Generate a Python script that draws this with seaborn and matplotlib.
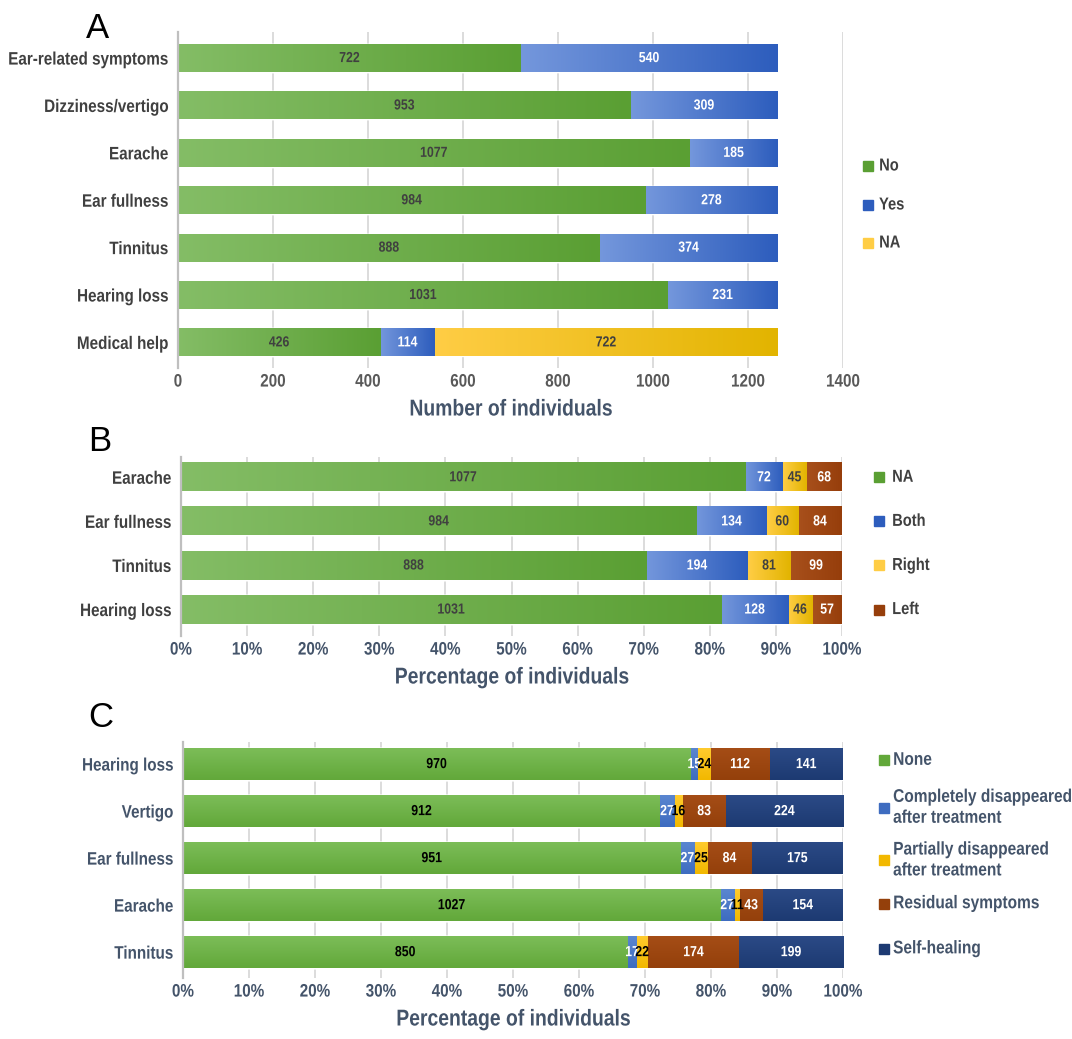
import numpy as np
import pandas as pd
import matplotlib
matplotlib.use("Agg")
import matplotlib.pyplot as plt
import matplotlib.transforms as mtransforms
from matplotlib.transforms import Affine2D
from matplotlib.colors import LinearSegmentedColormap
from matplotlib.patheffects import AbstractPathEffect
from matplotlib import font_manager as fm
import seaborn as sns

# ---------------- data ----------------
a_cats = ["Ear-related symptoms", "Dizziness/vertigo", "Earache", "Ear fullness",
          "Tinnitus", "Hearing loss", "Medical help"]
a_no = [722, 953, 1077, 984, 888, 1031, 426]
a_yes = [540, 309, 185, 278, 374, 231, 114]
a_na = [0, 0, 0, 0, 0, 0, 722]
a_names = ["No", "Yes", "NA"]
a_ticks = [0, 200, 400, 600, 800, 1000, 1200, 1400]

b_cats = ["Earache", "Ear fullness", "Tinnitus", "Hearing loss"]
b_na = [1077, 984, 888, 1031]
b_both = [72, 134, 194, 128]
b_right = [45, 60, 81, 46]
b_left = [68, 84, 99, 57]
b_names = ["NA", "Both", "Right", "Left"]

c_cats = ["Hearing loss", "Vertigo", "Ear fullness", "Earache", "Tinnitus"]
c_none = [970, 912, 951, 1027, 850]
c_complete = [15, 27, 27, 27, 17]
c_partial = [24, 16, 25, 11, 22]
c_residual = [112, 83, 84, 43, 174]
c_self = [141, 224, 175, 154, 199]
c_names = ["None", "Completely disappeared\nafter treatment",
           "Partially disappeared\nafter treatment", "Residual symptoms", "Self-healing"]
pct_ticks = list(range(0, 101, 10))

# ---------------- style ----------------
sns.set_theme(style="white")

installed = {f.name for f in fm.fontManager.ttflist}
if "Liberation Sans Narrow" in installed:
    FAM = ["Liberation Sans Narrow", "DejaVu Sans"]
elif "Liberation Sans" in installed:
    FAM = ["Liberation Sans", "DejaVu Sans"]
else:
    FAM = ["DejaVu Sans"]
plt.rcParams["font.family"] = FAM


class Narrow(AbstractPathEffect):
    """Horizontally condense text glyphs (the reference uses a narrow face)."""

    def __init__(self, sx, anchor="center"):
        super().__init__()
        self.sx = sx
        self.anchor = anchor

    def draw_path(self, renderer, gc, tpath, affine, rgbFace=None):
        ext = tpath.get_extents(affine)
        if self.anchor == "left":
            x0 = ext.x0
        elif self.anchor == "right":
            x0 = ext.x1
        else:
            x0 = 0.5 * (ext.x0 + ext.x1)
        new = affine + Affine2D().translate(-x0, 0).scale(self.sx, 1).translate(x0, 0)
        renderer.draw_path(gc, tpath, new, rgbFace)


GREEN = ("#84bd66", "#5a9f33")
BLUE = ("#7497dc", "#2d5dbd")
YELLOW = ("#ffcd45", "#e2b400")
BROWN = ("#a8501c", "#963e0b")

C_GREEN = ("#7cbd58", "#62a83a")
C_BLUE = ("#5a86d0", "#3e6cc0")
C_YELLOW = ("#ffcb2e", "#f2b800")
C_BROWN = ("#a54d16", "#94400b")
C_NAVY = ("#2b4a86", "#1d3a72")

GRID = "#d9d9d9"
DARK = "#404040"
SLATE = "#44546a"

fig = plt.figure(figsize=(10.72, 10.39), dpi=100)
W, H = 1072.0, 1039.0

TICK = 13
VAL = 10.5
XLAB = 16.5
LEG = 12.5
LEG_C = 13.2

# condensing factor so that the widest y label has the reference width (~160 px)
renderer = fig.canvas.get_renderer()
_t = fig.text(0, 0, "Ear-related symptoms", fontsize=TICK, fontweight="bold")
_w = _t.get_window_extent(renderer).width
_t.remove()
SX = float(np.clip(160.0 / _w, 0.68, 1.0))


def narrow(t, anchor):
    t.set_path_effects([Narrow(SX, anchor)])
    return t


def rect(x0, x1, y0, y1):
    return [x0 / W, 1 - y1 / H, (x1 - x0) / W, (y1 - y0) / H]


def stacked(ax, cats, series, grads, lab_colors, width, pct, vertical=False):
    vals = np.array(series, dtype=float)
    cum = np.cumsum(vals, axis=0)
    tot = cum[-1]
    cumx = cum / tot * 100 if pct else cum
    n = len(series)
    for i in reversed(range(n)):
        df = pd.DataFrame({"cat": cats, "x": cumx[i]})
        before = len(ax.patches)
        sns.barplot(data=df, x="x", y="cat", order=cats, orient="h",
                    color=grads[i][1], saturation=1, width=width, ax=ax,
                    errorbar=None)
        for p in ax.patches[before:]:
            j = int(round(p.get_y() + p.get_height() / 2))
            if vals[i][j] <= 0:
                continue
            left = 0.0 if i == 0 else cumx[i - 1][j]
            right = cumx[i][j]
            y0 = p.get_y()
            y1 = y0 + p.get_height()
            cmap = LinearSegmentedColormap.from_list("g", list(grads[i]))
            if vertical:
                g = np.linspace(0, 1, 64).reshape(-1, 1)
            else:
                g = np.linspace(0, 1, 256).reshape(1, -1)
            ax.imshow(g, extent=[left, right, y1, y0], aspect="auto", cmap=cmap,
                      interpolation="bilinear", origin="upper",
                      zorder=p.get_zorder() + 0.5 + (n - i) * 0.01)
    for i in range(n):
        for j in range(len(cats)):
            v = vals[i][j]
            if v <= 0:
                continue
            left = 0.0 if i == 0 else cumx[i - 1][j]
            xc = left + (cumx[i][j] - left) / 2
            narrow(ax.text(xc, j, f"{int(v)}", ha="center", va="center",
                           color=lab_colors[i], fontsize=VAL, fontweight="bold",
                           zorder=10), "center")


def finish(ax, xlim, ylim, ticks, ticklabels, xlabel, ycolor, xcolor):
    ax.set_xlim(*xlim)
    ax.set_ylim(*ylim)
    ax.set_xticks(ticks)
    ax.set_xticklabels(ticklabels)
    ax.set_axisbelow(True)
    ax.grid(axis="x", color=GRID, lw=1.3)
    ax.grid(axis="y", visible=False)
    for s in ["top", "right", "bottom"]:
        ax.spines[s].set_visible(False)
    ax.spines["left"].set_color("#bfbfbf")
    ax.spines["left"].set_linewidth(1.6)
    ax.tick_params(axis="both", length=0)
    ax.tick_params(axis="x", pad=4, labelsize=TICK, colors=xcolor)
    ax.tick_params(axis="y", pad=7, labelsize=TICK, colors=ycolor)
    for t in ax.get_xticklabels():
        t.set_fontweight("bold")
        narrow(t, "center")
    for t in ax.get_yticklabels():
        t.set_fontweight("bold")
        narrow(t, "right")
    ax.set_ylabel("")
    ax.set_xlabel(xlabel, fontsize=XLAB, fontweight="bold", color=SLATE, labelpad=5)
    narrow(ax.xaxis.label, "center")


# ---------------- Panel A ----------------
axA = fig.add_axes(rect(178, 843, 32, 368))
stacked(axA, a_cats, [a_no, a_yes, a_na], [GREEN, BLUE, YELLOW],
        [DARK, "white", DARK], 0.59, pct=False)
finish(axA, (0, 1400), (6.54, -0.55), a_ticks, [str(t) for t in a_ticks],
       "Number of individuals", DARK, "#595959")

# ---------------- Panel B ----------------
axB = fig.add_axes(rect(181, 842, 457, 636))
stacked(axB, b_cats, [b_na, b_both, b_right, b_left], [GREEN, BLUE, YELLOW, BROWN],
        [DARK, "white", DARK, "white"], 0.64, pct=True)
finish(axB, (0, 100), (3.6, -0.46), pct_ticks, [f"{t}%" for t in pct_ticks],
       "Percentage of individuals", DARK, SLATE)

# ---------------- Panel C ----------------
axC = fig.add_axes(rect(183, 843, 742, 978))
stacked(axC, c_cats, [c_none, c_complete, c_partial, c_residual, c_self],
        [C_GREEN, C_BLUE, C_YELLOW, C_BROWN, C_NAVY],
        ["black", "white", "black", "white", "white"], 0.68, pct=True,
        vertical=True)
finish(axC, (0, 100), (4.55, -0.47), pct_ticks, [f"{t}%" for t in pct_ticks],
       "Percentage of individuals", SLATE, SLATE)


# ---------------- legends ----------------
def legend_item(trans, xsq, xtxt, y, color, label, tcolor, size=7, fs=LEG):
    fig.add_artist(plt.Line2D([xsq / W], [y], marker="s", markersize=size,
                              color=color, transform=trans, linestyle="none"))
    t = fig.text(xtxt / W, y, label, transform=trans, ha="left", va="center",
                 fontsize=fs, fontweight="bold", color=tcolor, linespacing=1.3)
    narrow(t, "left")


for k, (name, col) in enumerate(zip(a_names, [GREEN[1], BLUE[1], YELLOW[0]])):
    ypix = [166, 205, 243][k]
    legend_item(fig.transFigure, 868, 879, 1 - ypix / H, col, name, DARK)

transB = mtransforms.blended_transform_factory(fig.transFigure, axB.transData)
for k, (name, col) in enumerate(zip(b_names, [GREEN[1], BLUE[1], YELLOW[0], BROWN[1]])):
    legend_item(transB, 879, 892, k, col, name, DARK)

transC = mtransforms.blended_transform_factory(fig.transFigure, axC.transData)
c_leg_y = [-0.08, -0.07, 0.05, -0.03, -0.07]
for k, (name, col) in enumerate(zip(c_names, [C_GREEN[1], C_BLUE[1], C_YELLOW[1],
                                                C_BROWN[1], C_NAVY[1]])):
    legend_item(transC, 884, 893, k + c_leg_y[k], col, name, SLATE, fs=LEG_C)

# ---------------- panel letters ----------------
for letter, (xp, yp) in zip("ABC", [(98, 38), (100, 451), (101, 727)]):
    fig.text(xp / W, 1 - yp / H, letter, ha="center", va="baseline", fontsize=25,
             family=["Liberation Sans", "DejaVu Sans"], color="black")

fig.savefig("out.png", dpi=100)
